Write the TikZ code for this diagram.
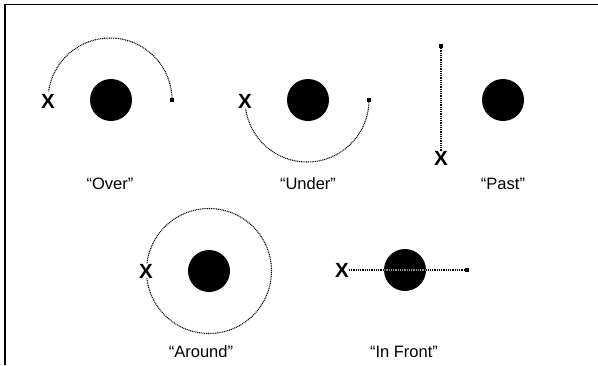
\documentclass[tikz,border=0pt]{standalone}
\usepackage{fontspec}
\setmainfont{Liberation Sans}
\begin{document}
\begin{tikzpicture}[x=1pt,y=1pt,
  ball/.style={circle,fill=black,inner sep=0pt,minimum size=42pt},
  xmark/.style={inner sep=0pt,font=\fontsize{20.5}{20.5}\selectfont\bfseries},
  sq/.style={rectangle,fill=black,inner sep=0pt,minimum size=3.4pt},
  lbl/.style={anchor=base,inner sep=0pt,font=\fontsize{16.5}{16.5}\selectfont},
  orbit/.style={draw=black,line width=1.05pt,dash pattern=on 1pt off 0.8pt},
  frame/.style={line width=1.6pt}]
\useasboundingbox (0,0) rectangle (598,-365);
\draw[frame] (5,-365) -- (5,-4.5) -- (598,-4.5);
% Over
\node[ball] (b1) at (111,-100) {};
\node[xmark] (x1) at (48,-101) {X};
\node[sq] (s1) at (172,-100) {};
\draw[orbit] (s1.center) arc[start angle=0,end angle=172,radius=62];
\node[lbl] (l1) at (110,-189) {“Over”};
% Under
\node[ball] (b2) at (308,-100) {};
\node[xmark] (x2) at (245,-101) {X};
\node[sq] (s2) at (369,-100) {};
\draw[orbit] (s2.center) arc[start angle=0,end angle=-172,radius=62];
\node[lbl] (l2) at (308,-189) {“Under”};
% Past
\node[ball] (b3) at (503,-100) {};
\node[sq] (s3) at (441,-46) {};
\node[xmark] (x3) at (441,-158) {X};
\draw[orbit] (s3.center) -- (x3.north);
\node[lbl] (l3) at (503,-189) {“Past”};
% Around
\node[ball] (b4) at (209,-271) {};
\draw[orbit] (b4.center) ++(0,0) circle[radius=62.5];
\node[xmark,fill=white,inner sep=0pt] (x4) at (146,-271) {X};
\node[lbl] (l4) at (201,-357) {“Around”};
% In Front
\node[ball] (b5) at (405,-270) {};
\node[xmark] (x5) at (342,-270) {X};
\node[sq] (s5) at (467,-270) {};
\draw[orbit] (x5.east) -- (s5.center);
\draw[orbit,draw=white!55!black] (b5.west) -- (b5.east);
\node[lbl] (l5) at (404,-357) {“In Front”};
\end{tikzpicture}
\end{document}
